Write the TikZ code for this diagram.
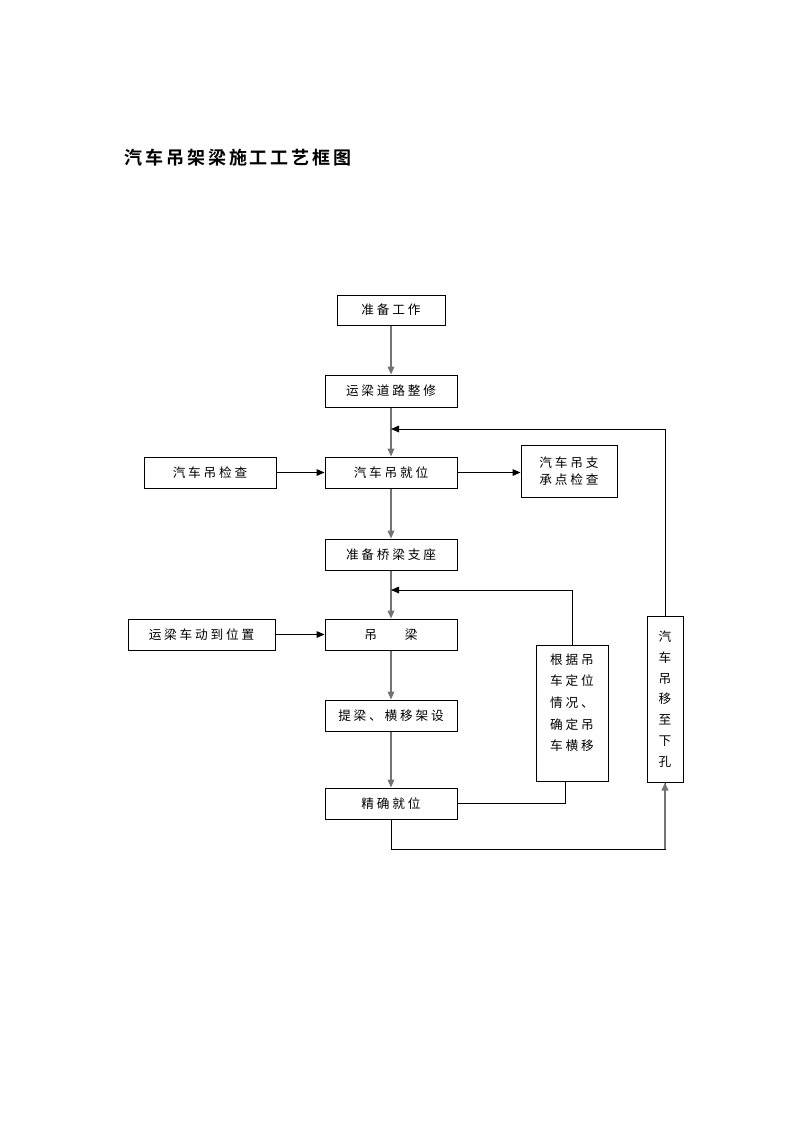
\documentclass[tikz,border=0pt]{standalone}
\usepackage{fontspec}
\newfontfamily\cjk[LetterSpace=22]{Noto Sans CJK SC}
\newfontfamily\cjktitle[LetterSpace=16]{Noto Sans CJK SC Bold}
\newfontfamily\cjkv{Noto Sans CJK SC}
\usetikzlibrary{arrows.meta}
\begin{document}
\begin{tikzpicture}[x=0.75pt,y=-0.75pt,
  box/.style={draw,line width=0.75pt,inner sep=0pt,font=\cjk\fontsize{9.5}{11}\selectfont,minimum width=99pt,minimum height=23.25pt},
  arr/.style={line width=0.75pt,-{Triangle[length=6pt,width=5pt]}},
  varr/.style={arr,draw=black!55,line width=1.1pt},
  ln/.style={line width=0.75pt}]
\useasboundingbox (0,0) rectangle (793,1122);
\node[anchor=west,font=\cjktitle\fontsize{13.5}{16}\selectfont] (title) at (120,158) {汽车吊架梁施工工艺框图};
\node[box,minimum width=81pt,minimum height=22.5pt] (zbgz) at (391,310) {准备工作};
\node[box,minimum height=24pt] (ylxd) at (391,391) {运梁道路整修};
\node[box] (qcjw) at (391,472.5) {汽车吊就位};
\node[box] (jc) at (210,472.5) {汽车吊检查};
\node[box,minimum width=72pt,minimum height=39pt,align=center] (zcd) at (569,471) {汽车吊支\\[2pt]承点检查};
\node[box] (qqzz) at (391,554.5) {准备桥梁支座};
\node[box] (dl) at (391,634.5) {吊\hspace{2.2em}梁};
\node[box,minimum width=110.25pt] (yl) at (201.5,634.5) {运梁车动到位置};
\node[box] (tl) at (391,715.5) {提梁、横移架设};
\node[box] (jq) at (391,803.5) {精确就位};
\node[box,minimum width=54pt,minimum height=102pt,align=left,
  font=\cjk\fontsize{9.5}{16.2}\selectfont] (gj) at (572,713) {根据吊\\车定位\\情况、\\确定吊\\车横移\\\mbox{}};
\node[box,minimum width=27pt,minimum height=124.5pt,align=center,
  font=\cjkv\fontsize{9.5}{15.6}\selectfont] (ydxk) at (665,699) {汽\\车\\吊\\移\\至\\下\\孔};
\coordinate (m1) at (391,429);
\coordinate (m2) at (391,590);
\coordinate (g1) at (565,781);
\draw[varr] (zbgz) -- (ylxd);
\draw[varr] (ylxd) -- (qcjw);
\draw[arr] (ydxk.north) |- (m1);
\draw[arr] (jc) -- (qcjw);
\draw[arr] (qcjw.east) -- (qcjw.east -| zcd.west);
\draw[varr] (qcjw) -- (qqzz);
\draw[varr] (qqzz) -- (dl);
\draw[arr] (gj.north) |- (m2);
\draw[arr] (yl) -- (dl);
\draw[varr] (dl) -- (tl);
\draw[varr] (tl) -- (jq);
\draw[ln] (jq.east) -| (g1);
\draw[ln] (jq.south) -- ++(0,30) -| (ydxk.south);
\draw[varr] (ydxk.south |- 0,849) -- (ydxk.south);
\end{tikzpicture}
\end{document}
